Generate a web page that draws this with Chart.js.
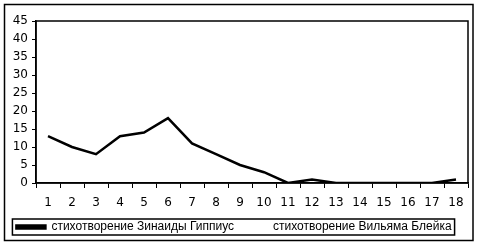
<!DOCTYPE html>
<html><head><meta charset="utf-8">
<script src="https://cdn.jsdelivr.net/npm/chart.js@4/dist/chart.umd.min.js"></script>
<style>html,body{margin:0;padding:0;background:#fff;}#wrap{position:relative;width:479px;height:246px;}</style>
</head><body><div id="wrap"><canvas id="c" width="479" height="246"></canvas></div>
<script>
const categories = ['1','2','3','4','5','6','7','8','9','10','11','12','13','14','15','16','17','18'];
const gippius = [13,10,8,13,14,18,11,8,5,3,0,1,0,0,0,0,0,1];
const blake = [null,null,null,null,null,null,null,null,null,null,null,null,null,null,null,null,null,null];
const seriesNames = ['стихотворение Зинаиды Гиппиус','стихотворение Вильяма Блейка'];
const yTicks = {min:0,max:45,step:5};

const frame = {
  id:'frame',
  afterDraw(chart){
    const ctx = chart.ctx, a = chart.chartArea;
    ctx.save();
    ctx.strokeStyle = '#000';
    ctx.lineWidth = 1.5;
    ctx.strokeRect(a.left, a.top, a.right - a.left, a.bottom - a.top);
    ctx.strokeRect(4.5, 4.5, 468.5, 236);
    const hb = chart.legend.legendHitBoxes;
    if (hb && hb.length){
      let l = Infinity, r = -Infinity, t = Infinity, b = -Infinity;
      hb.forEach(h => { l = Math.min(l,h.left); r = Math.max(r,h.left+h.width); t = Math.min(t,h.top); b = Math.max(b,h.top+h.height); });
      ctx.lineWidth = 1.5;
      ctx.strokeRect(l - 4, t - 2, r - l + 7, b - t + 4);
    }
    ctx.restore();
  }
};

new Chart(document.getElementById('c'), {
  type:'line',
  data:{
    labels:categories,
    datasets:[
      {label:seriesNames[0], data:gippius, borderColor:'#000', backgroundColor:'#000', borderWidth:2.5, pointRadius:0, tension:0, fill:false},
      {label:seriesNames[1], data:blake, borderColor:'#fff', backgroundColor:'#fff', borderWidth:2.5, pointRadius:0, fill:false}
    ]
  },
  options:{
    responsive:false, animation:false,
    layout:{padding:{left:0,right:11,top:21,bottom:3}},
    plugins:{
      tooltip:{enabled:false},
      legend:{position:'bottom', labels:{boxWidth:29, boxHeight:3, padding:4, color:'#000', font:{family:'Liberation Sans', size:12}}}
    },
    scales:{
      x:{
        offset:true,
        grid:{offset:true, drawOnChartArea:false, drawTicks:true, tickLength:5, color:'#000', lineWidth:1},
        border:{display:true,color:'#000',width:1.5},
        ticks:{color:'#000', padding:8, maxRotation:0, autoSkip:false, font:{family:'DejaVu Sans', size:12}},
        afterFit(s){ s.height = 34; }
      },
      y:{
        min:yTicks.min, max:yTicks.max,
        grid:{drawOnChartArea:false, drawTicks:true, tickLength:4, color:'#000', lineWidth:1},
        border:{display:true,color:'#000',width:1.5},
        ticks:{stepSize:yTicks.step, color:'#000', padding:4, font:{family:'DejaVu Sans', size:12}},
        afterFit(s){ s.width = 36; }
      }
    }
  },
  plugins:[frame]
});
</script></body></html>
